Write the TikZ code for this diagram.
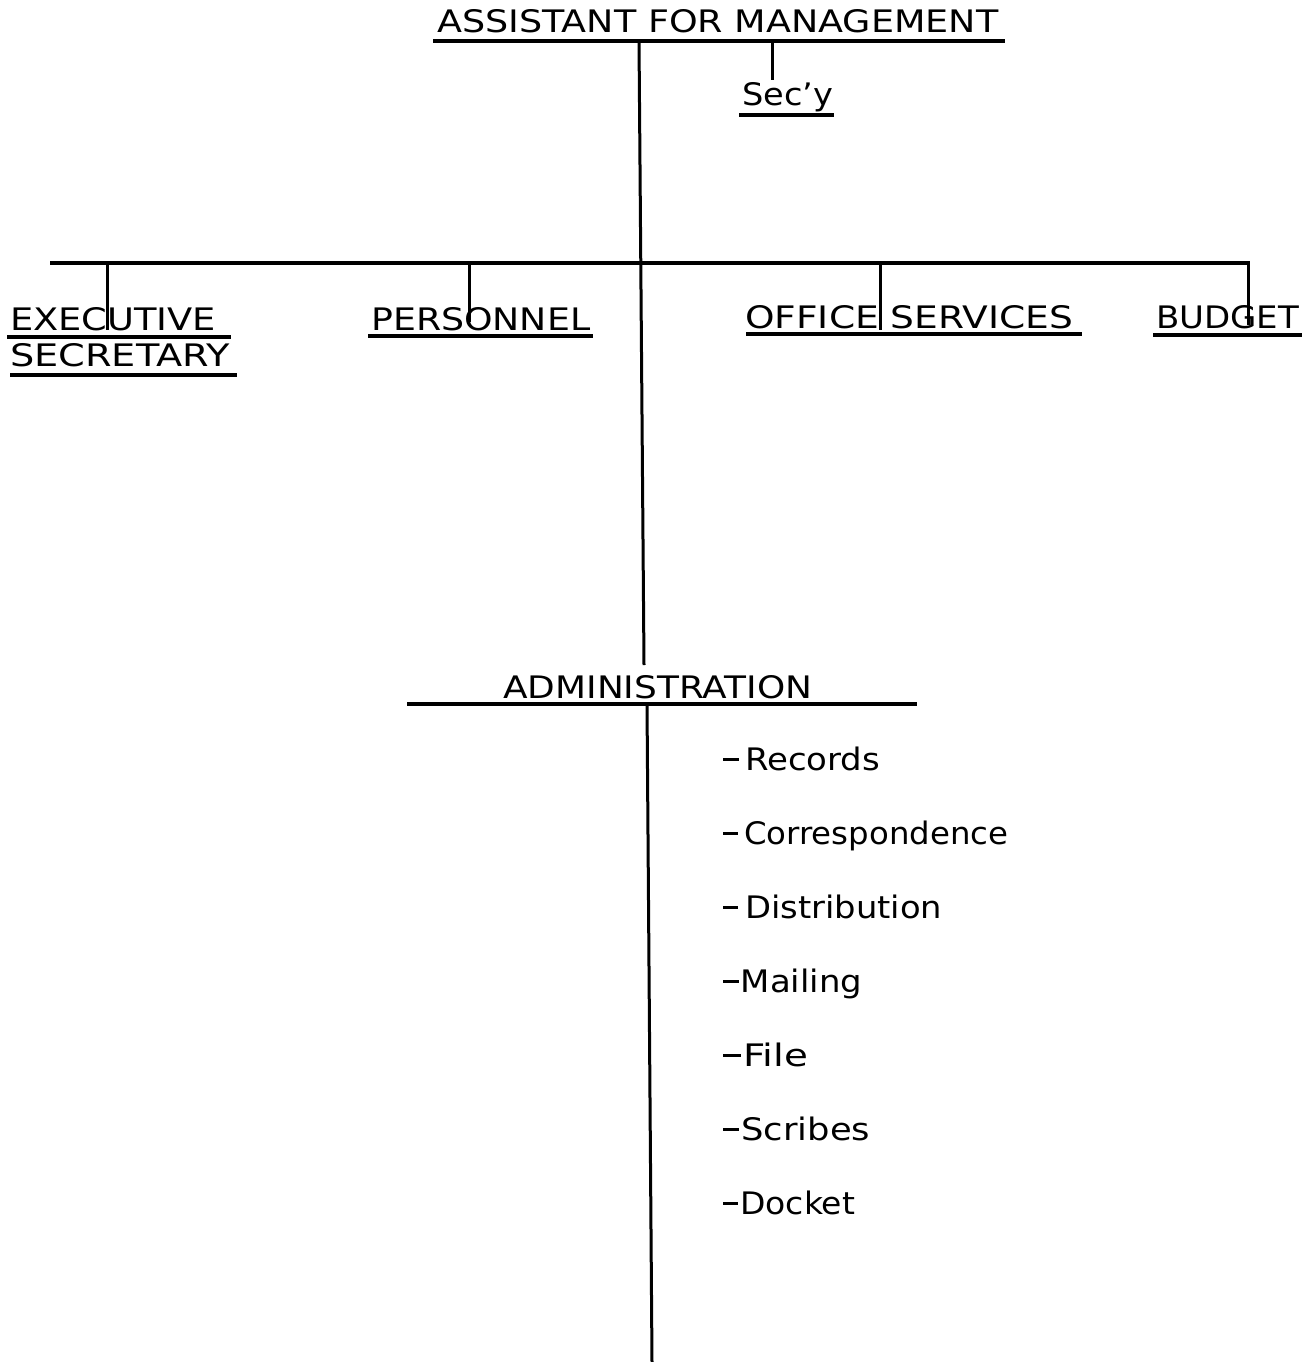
\documentclass[tikz,border=0pt]{standalone}
\usepackage{fontspec}
\setmainfont{DejaVu Sans}
\usepackage{graphicx}
\newcommand{\fitw}[2]{\resizebox{#1pt}{\height}{#2}}
\newcommand{\dsh}[1]{\rule[9pt]{14pt}{2.6pt}\hspace{#1pt}}
\begin{document}
\begin{tikzpicture}[x=1pt,y=-1pt,
  lbl/.style={anchor=base west, inner sep=0pt, font=\fontsize{31}{34}\selectfont},
  rule/.style={line width=3.2pt},
  conn/.style={line width=3pt}]
\fill[white] (0,0) rectangle (1311,1362);
\useasboundingbox (0,0) rectangle (1311,1362);

% ---- top box
\node[lbl] (title) at (437,33) {\fitw{561}{ASSISTANT FOR MANAGEMENT}};
\coordinate (tL) at (433,41);
\coordinate (tR) at (1005,41);
\draw[rule] (tL) -- (tR);

\node[lbl] (secy) at (742,106) {\fitw{91}{Sec\char"0027 y}};
\coordinate (sL) at (739,115);
\coordinate (sR) at (834,115);
\draw[rule] (sL) -- (sR);
\coordinate (secyA) at (772,41);
\coordinate (secyB) at (772,80);
\draw[conn] (secyA) -- (secyB);

% ---- main spine
\coordinate (mainA) at (639,41);
\coordinate (mainB) at (644,665);
\draw[conn] (mainA) -- (mainB);

% ---- horizontal bar
\coordinate (hL) at (50,263);
\coordinate (hR) at (1250,263);
\draw[rule] (hL) -- (hR);

% ---- second level
\node[lbl] (exec1) at (10,330) {\fitw{206}{EXECUTIVE}};
\draw[rule] (7,337) -- (231,337);
\node[lbl] (exec2) at (10,366) {\fitw{220}{SECRETARY}};
\draw[rule] (10,375) -- (237,375);
\coordinate (execA) at (107,263);
\coordinate (execB) at (107,330);
\draw[conn] (execA) -- (execB);

\node[lbl] (pers) at (371,330) {\fitw{219}{PERSONNEL}};
\draw[rule] (368,336) -- (593,336);
\coordinate (persA) at (469,263);
\coordinate (persB) at (469,322);
\draw[conn] (persA) -- (persB);

\node[lbl] (office) at (745,328) {\fitw{328}{OFFICE SERVICES}};
\draw[rule] (746,334) -- (1082,334);
\coordinate (offA) at (880,263);
\coordinate (offB) at (880,330);
\draw[conn] (offA) -- (offB);

\node[lbl] (budget) at (1156,328) {\fitw{143}{BUDGET}};
\draw[rule] (1153,335) -- (1302,335);
\coordinate (budA) at (1248,263);
\coordinate (budB) at (1248,325);
\draw[conn] (budA) -- (budB);

% ---- administration
\node[lbl] (admin) at (503,698) {\fitw{309}{ADMINISTRATION}};
\coordinate (aL) at (407,704);
\coordinate (aR) at (917,704);
\draw[rule] (aL) -- (aR);
\coordinate (lowA) at (647,704);
\coordinate (lowB) at (652,1362);
\draw[conn] (lowA) -- (lowB);

% ---- list
\node[lbl] (i1) at (723,770)  {\fitw{157}{\dsh{6}Records}};
\node[lbl] (i2) at (723,844)  {\fitw{285}{\dsh{6}Correspondence}};
\node[lbl] (i3) at (723,918)  {\fitw{219}{\dsh{6}Distribution}};
\node[lbl] (i4) at (723,992)  {\fitw{139}{\dsh{2}Mailing}};
\node[lbl] (i5) at (723,1066) {\fitw{85}{\dsh{2}File}};
\node[lbl] (i6) at (723,1140) {\fitw{147}{\dsh{2}Scribes}};
\node[lbl] (i7) at (723,1214) {\fitw{132}{\dsh{2}Docket}};
\end{tikzpicture}
\end{document}
